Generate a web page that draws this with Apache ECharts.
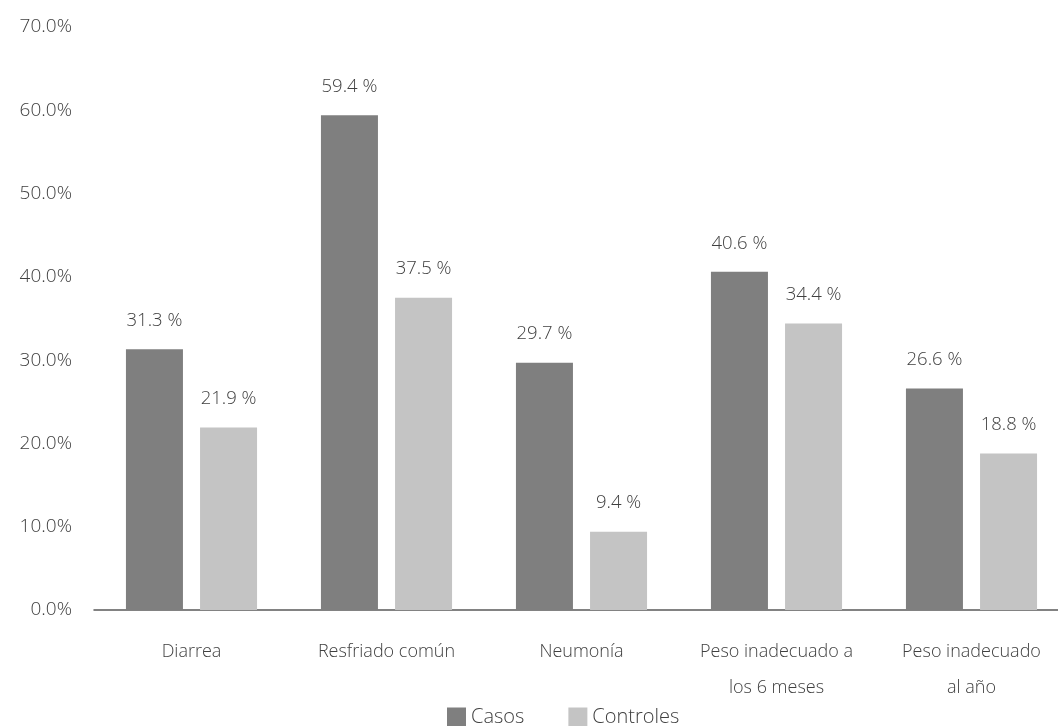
<!DOCTYPE html>
<html>
<head>
<meta charset="utf-8">
<script src="https://cdn.jsdelivr.net/npm/echarts@6/dist/echarts.min.js"></script>
<style>
  html, body { margin: 0; padding: 0; background: #fff; }
  #chart { width: 1058px; height: 726px; }
</style>
</head>
<body>
<div id="chart"></div>
<script>
const categories = ['Diarrea', 'Resfriado común', 'Neumonía', 'Peso inadecuado a\nlos 6 meses', 'Peso inadecuado\nal año']
const casos = [31.3, 59.4, 29.7, 40.6, 26.6]
const controles = [21.9, 37.5, 9.4, 34.4, 18.8]

const font = '"Open Sans", "Noto Sans", sans-serif'
const txt = '#404040'

const chart = echarts.init(document.getElementById('chart'))
const labelCfg = {
  show: true,
  position: 'top',
  distance: 19,
  color: txt,
  fontFamily: font,
  fontWeight: 300,
  fontSize: 18.5,
  formatter: p => p.value.toFixed(1) + ' %'
}
chart.setOption({
  animation: false,
  grid: { left: 94, width: 975, top: 27, height: 583, outerBoundsMode: 'none', containLabel: false },
  legend: {
    top: 702,
    left: 442,
    itemWidth: 19,
    itemHeight: 19,
    itemGap: 44,
    icon: 'rect',
    textStyle: { color: txt, fontFamily: font, fontWeight: 300, fontSize: 20 },
    data: ['Casos', 'Controles']
  },
  xAxis: {
    type: 'category',
    data: categories,
    axisLine: { lineStyle: { color: '#595959', width: 1.5 } },
    axisTick: { show: false },
    axisLabel: {
      color: txt,
      fontFamily: font,
      fontWeight: 300,
      fontSize: 18,
      margin: 24,
      lineHeight: 36,
      interval: 0
    }
  },
  yAxis: {
    type: 'value',
    min: 0,
    max: 70,
    interval: 10,
    splitLine: { show: false },
    axisLine: { show: false },
    axisTick: { show: false },
    axisLabel: {
      color: txt,
      fontFamily: font,
      fontWeight: 300,
      fontSize: 19,
      margin: 22,
      formatter: v => v.toFixed(1) + '%'
    }
  },
  series: [
    {
      name: 'Casos',
      type: 'bar',
      data: casos,
      barWidth: 57,
      barGap: '30%',
      itemStyle: { color: '#7f7f7f' },
      label: labelCfg
    },
    {
      name: 'Controles',
      type: 'bar',
      data: controles,
      barWidth: 57,
      itemStyle: { color: '#c4c4c4' },
      label: labelCfg
    }
  ]
})
</script>
</body>
</html>
